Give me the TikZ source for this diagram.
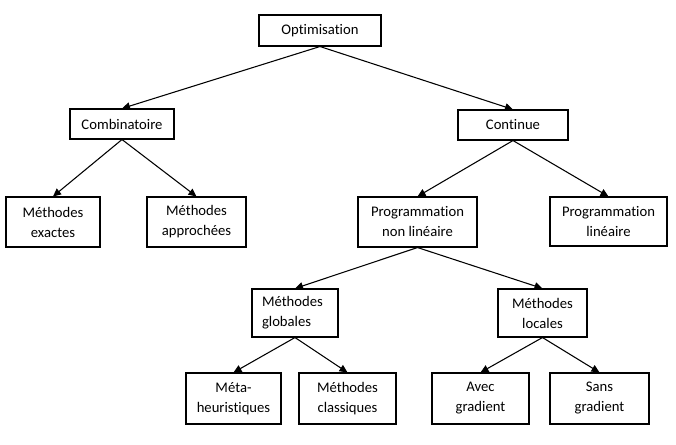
\documentclass[tikz,border=0pt]{standalone}
\usepackage{fontspec}
\setmainfont{Carlito}[Ligatures=NoCommon]
\usetikzlibrary{arrows.meta}
\begin{document}
\begin{tikzpicture}[x=0.75pt,y=-0.75pt,
  box/.style 2 args={draw=black, line width=0.8pt, minimum width=#1*0.75pt, minimum height=#2*0.75pt,
    inner sep=0pt, align=center, font=\fontsize{11pt}{15pt}\selectfont},
  arr/.style={draw=black, line width=0.8pt, -{Triangle[length=6pt,width=5.5pt]}}]
\useasboundingbox (0,0) rectangle (676,445);
\node[box={122}{31}] (opt) at (320,30.5) {Optimisation};
\node[box={104}{30}] (comb) at (122,124) {Combinatoire};
\node[box={110}{30}] (cont) at (513,125) {Continue};
\node[box={94}{50}] (exa) at (53,222) {Méthodes\\exactes};
\node[box={99}{50}] (app) at (196.5,222) {Méthodes\\approchées};
\node[box={119}{50}] (pnl) at (417.5,222) {Programmation\\non linéaire};
\node[box={117}{49}] (pl) at (608.5,221.5) {Programmation\\linéaire};
\node[box={86}{48}, align=left, text width=49.5pt, inner xsep=7.5pt] (glo) at (295,313) {Méthodes\\globales};
\node[box={89}{48}] (loc) at (542.5,313) {Méthodes\\locales};
\node[box={95}{51}] (meta) at (233.5,398.5) {Méta-\\heuristiques};
\node[box={97}{51}] (cla) at (347.5,398.5) {Méthodes\\classiques};
\node[box={97}{51}] (avec) at (480.5,398.5) {Avec\\gradient};
\node[box={99}{51}] (sans) at (599.5,398.5) {Sans\\gradient};
\draw[arr] (opt.south) -- (comb.north);
\draw[arr] (opt.south) -- (cont.north);
\draw[arr] (comb.south) -- (exa.north);
\draw[arr] (comb.south) -- (app.north);
\draw[arr] (cont.south) -- (pnl.north);
\draw[arr] (cont.south) -- (pl.north);
\draw[arr] (pnl.south) -- (glo.north);
\draw[arr] (pnl.south) -- (loc.north);
\draw[arr] (glo.south) -- (meta.north);
\draw[arr] (glo.south) -- (cla.north);
\draw[arr] (loc.south) -- (avec.north);
\draw[arr] (loc.south) -- (sans.north);
\end{tikzpicture}
\end{document}
